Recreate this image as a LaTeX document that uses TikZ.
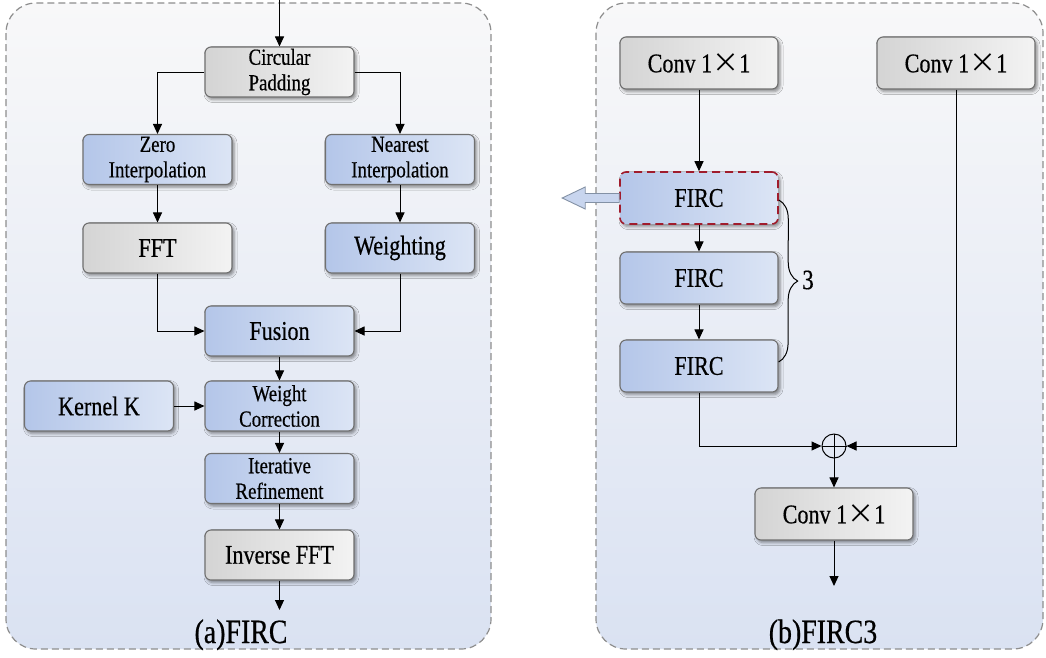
\documentclass[tikz,border=0pt]{standalone}
\usepackage{fontspec}
\setmainfont{Liberation Serif}[FakeStretch=0.82, FakeBold=0.5]
\newfontfamily\cjk{Noto Sans CJK SC}
\usetikzlibrary{arrows.meta,shadows.blur,decorations.pathreplacing,calc}
\definecolor{blueL}{HTML}{B4C6E9}
\definecolor{blueR}{HTML}{DCE5F5}
\definecolor{grayL}{HTML}{D4D4D4}
\definecolor{grayR}{HTML}{F3F3F3}
\definecolor{boxborder}{HTML}{707070}
\definecolor{panelTop}{HTML}{F8F8F9}
\definecolor{panelBot}{HTML}{DAE2F2}
\definecolor{panelEdge}{HTML}{8E8E8E}
\definecolor{firered}{HTML}{A01C2C}
\definecolor{arrowfill}{HTML}{C8D5EE}
\definecolor{arrowedge}{HTML}{8391A5}
\newcommand{\mytimes}{{\cjk ×}}
\begin{document}
\begin{tikzpicture}[x=1pt,y=-1pt,
  box/.style={draw=boxborder, line width=1.1pt, rounded corners=6pt,
    minimum width=149pt, minimum height=50pt, inner sep=0pt, align=center,
    blur shadow={shadow xshift=2pt, shadow yshift=-2.5pt, shadow blur radius=3pt, shadow opacity=45}},
  bluebox/.style={box, left color=blueL, right color=blueR},
  graybox/.style={box, left color=grayL, right color=grayR},
  rbox/.style={minimum width=158pt, minimum height=52pt},
  two/.style={font=\fontsize{23}{25.5}\selectfont},
  one/.style={font=\fontsize{27}{30}\selectfont},
  conn/.style={line width=1pt, -{Triangle[length=10pt,width=9pt]}},
  panel/.style={draw=panelEdge, line width=1.2pt, dash pattern=on 7pt off 4pt,
    rounded corners=30pt, top color=panelTop, bottom color=panelBot},
  caption/.style={font=\fontsize{34}{36}\selectfont, anchor=base, inner sep=0pt}
]
\useasboundingbox (0,0) rectangle (1046,657);
% panels
\path[panel] (6,3) rectangle (491,649);
\path[panel] (596,3) rectangle (1043,649);

% left panel nodes
\node[graybox, two] (cp) at (279.5,72) {Circular\\Padding};
\node[bluebox, two] (zi) at (157.5,159.5) {Zero\\Interpolation};
\node[bluebox, two] (ni) at (400,159.5) {Nearest\\Interpolation};
\node[graybox, one] (fft) at (157.5,248) {FFT};
\node[bluebox, one] (wt) at (400,248) {Weighting};
\node[bluebox, one] (fus) at (279.5,331) {Fusion};
\node[bluebox, one] (kk) at (99,406) {Kernel K};
\node[bluebox, two] (wc) at (279.5,406) {Weight\\Correction};
\node[bluebox, two] (ir) at (279.5,478.5) {Iterative\\Refinement};
\node[graybox, one] (ifft) at (279.5,555) {Inverse FFT};
\coordinate (inA) at (279.5,0);
\coordinate (outA) at (279.5,610);
\node[caption] (capA) at (241,643) {(a)FIRC};

\draw[conn] (inA) -- (cp.north);
\draw[conn] (cp.west) -| (zi.north);
\draw[conn] (cp.east) -| (ni.north);
\draw[conn] (zi.south) -- (fft.north);
\draw[conn] (ni.south) -- (wt.north);
\draw[conn] (fft.south) |- (fus.west);
\draw[conn] (wt.south) |- (fus.east);
\draw[conn] (fus.south) -- (wc.north);
\draw[conn] (kk.east) -- (wc.west);
\draw[conn] (wc.south) -- (ir.north);
\draw[conn] (ir.south) -- (ifft.north);
\draw[conn] (ifft.south) -- (outA);

% right panel nodes
\node[graybox, rbox, one] (c1) at (699,63) {Conv 1\mytimes1};
\node[graybox, rbox, one] (c2) at (956,63) {Conv 1\mytimes1};
\node[bluebox, rbox, one, draw=firered, line width=1.6pt, dash pattern=on 8pt off 5pt] (f1) at (699,198) {FIRC};
\node[bluebox, rbox, one] (f2) at (699,278) {FIRC};
\node[bluebox, rbox, one] (f3) at (699,366) {FIRC};
\node[circle, draw=black, line width=1pt, minimum size=24pt, inner sep=0pt] (plus) at (834,446) {};
\draw[line width=1pt] (plus.north) -- (plus.south) (plus.west) -- (plus.east);
\node[graybox, rbox, one] (cb) at (834,514) {Conv 1\mytimes1};
\coordinate (outB) at (834,586);
\node[caption] (capB) at (823,643) {(b)FIRC3};

\draw[conn] (c1.south) -- (f1.north);
\draw[conn] (f1.south) -- (f2.north);
\draw[conn] (f2.south) -- (f3.north);
\draw[conn] (f3.south) |- (plus.west);
\draw[conn] (c2.south) |- (plus.east);
\draw[conn] (plus.south) -- (cb.north);
\draw[conn] (cb.south) -- (outB);

% brace
\draw[line width=1pt, decorate, decoration={brace, amplitude=19pt, aspect=0.5}]
  ($(f1.east)+(0,2)$) -- ($(f3.east)+(0,-4)$);
\node[font=\fontsize{28}{30}\selectfont, inner sep=0pt] (three) at (808,280) {3};

% hollow arrow
\draw[fill=arrowfill, draw=arrowedge, line width=0.9pt]
  ($(f1.west)+(0,4.5)$) -- ++(-34,0) -- ++(0,6.5) -- ++(-23,-11) -- ++(23,-11) -- ++(0,6.5) -- ++(34,0) -- cycle;
\end{tikzpicture}
\end{document}
